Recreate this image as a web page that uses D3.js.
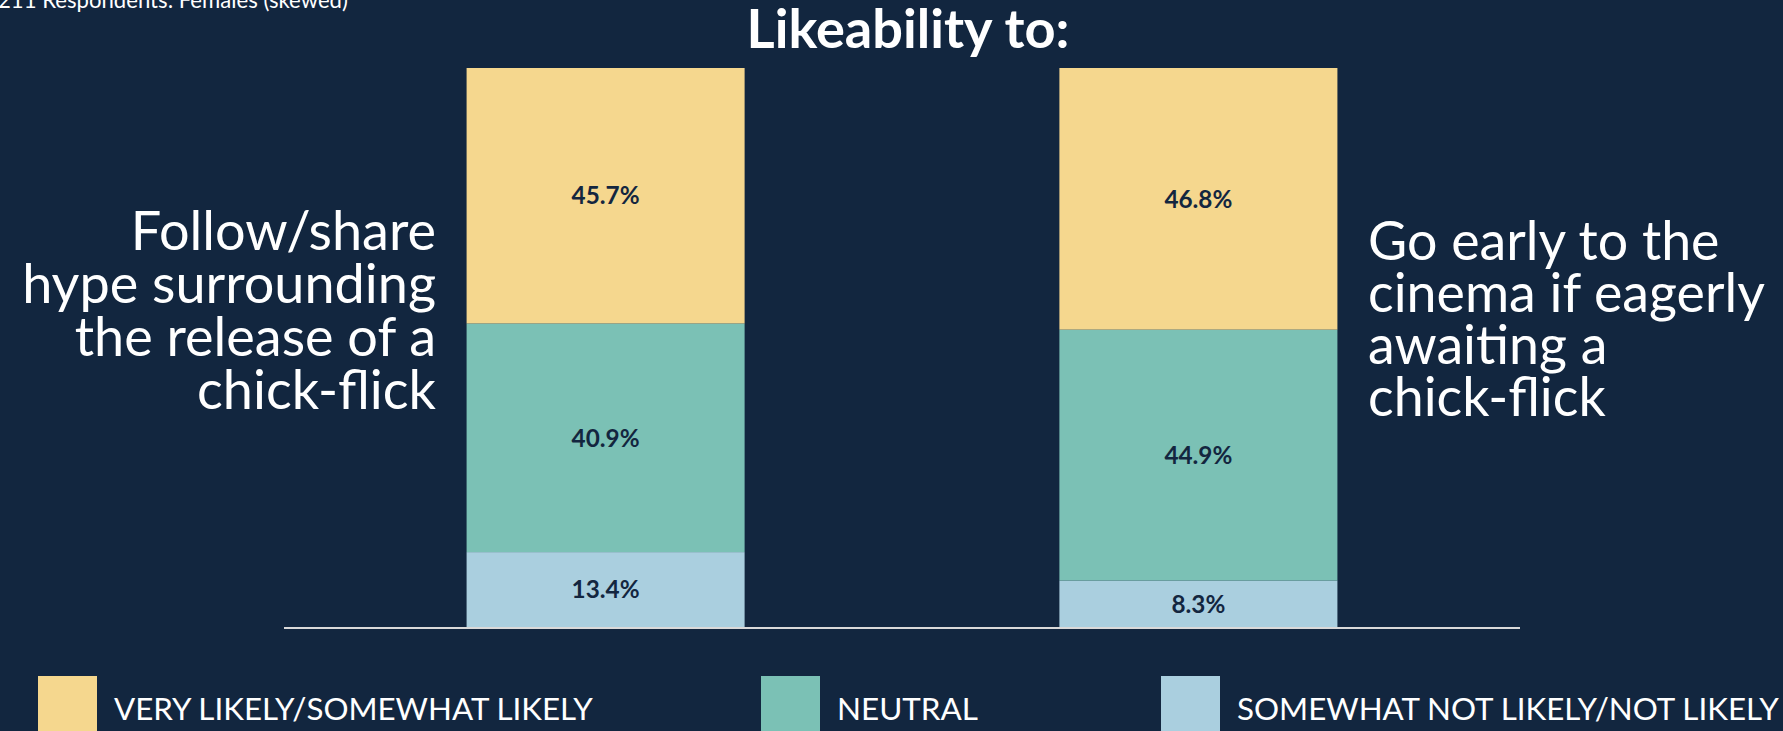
<!DOCTYPE html>
<html>
<head>
<meta charset="utf-8">
<script src="https://cdn.jsdelivr.net/npm/d3@7"></script>
<style>
  html, body { margin: 0; padding: 0; background: #12263f; overflow: hidden; }
  svg { display: block; font-family: Lato, "Open Sans", sans-serif; }
</style>
</head>
<body>
<div id="wrapper"></div>
<script>
// data
const categories = ["Follow/share hype surrounding the release of a chick-flick",
                    "Go early to the cinema if eagerly awaiting a chick-flick"]
const seriesNames = ["SOMEWHAT NOT LIKELY/NOT LIKELY", "NEUTRAL", "VERY LIKELY/SOMEWHAT LIKELY"]
const notLikely = [13.4, 8.3]
const neutral = [40.9, 44.9]
const likely = [45.7, 46.8]
const leftLabelLines = ["Follow/share", "hype surrounding", "the release of a", "chick-flick"]
const rightLabelLines = ["Go early to the", "cinema if eagerly", "awaiting a", "chick-flick"]
const legendOrder = ["VERY LIKELY/SOMEWHAT LIKELY", "NEUTRAL", "SOMEWHAT NOT LIKELY/NOT LIKELY"]
const colors = {
  "VERY LIKELY/SOMEWHAT LIKELY": "#f5d78e",
  "NEUTRAL": "#7bc1b5",
  "SOMEWHAT NOT LIKELY/NOT LIKELY": "#aacfdf"
}

const width = 1783
const height = 731

const svg = d3.select("#wrapper").append("svg")
    .attr("width", width)
    .attr("height", height)

svg.append("rect").attr("width", width).attr("height", height).attr("fill", "#12263f")

// helper: scale font so text hits target width
function fitText(sel, target) {
  const fs = parseFloat(sel.style("font-size"))
  const w = sel.node().getComputedTextLength()
  sel.style("font-size", (fs * target / w) + "px")
}

// scales
const xScale = d3.scaleBand()
    .domain(categories)
    .range([284, 1520])
    .paddingInner(0.531)
    .paddingOuter(0.308)

const yScale = d3.scaleLinear()
    .domain([0, 100])
    .range([627, 68])

const table = categories.map((c, i) => ({
  cat: c,
  "SOMEWHAT NOT LIKELY/NOT LIKELY": notLikely[i],
  "NEUTRAL": neutral[i],
  "VERY LIKELY/SOMEWHAT LIKELY": likely[i]
}))
const stacked = d3.stack().keys(seriesNames)(table)

const layers = svg.selectAll("g.layer")
  .data(stacked)
  .join("g")
    .attr("class", "layer")
    .attr("fill", d => colors[d.key])

layers.selectAll("rect")
  .data(d => d)
  .join("rect")
    .attr("x", d => xScale(d.data.cat))
    .attr("width", xScale.bandwidth())
    .attr("y", d => yScale(d[1]))
    .attr("height", d => yScale(d[0]) - yScale(d[1]))

const valueLabels = layers.selectAll("text")
  .data(d => d)
  .join("text")
    .attr("x", d => xScale(d.data.cat) + xScale.bandwidth() / 2)
    .attr("y", d => (yScale(d[0]) + yScale(d[1])) / 2)
    .attr("dy", "0.36em")
    .attr("text-anchor", "middle")
    .attr("fill", "#13263f")
    .style("font-weight", "bold")
    .style("font-size", "22px")
    .text(d => (d[1] - d[0]).toFixed(1) + "%")
{
  // size from the "45.7%" label, ~68px wide in the reference
  const ref = valueLabels.filter(d => d.data.cat === categories[0] && d[0] > 50)
  const w = ref.node().getComputedTextLength()
  valueLabels.style("font-size", (22 * 68 / w) + "px")
}

// baseline
svg.append("line")
    .attr("x1", xScale.range()[0])
    .attr("x2", xScale.range()[1])
    .attr("y1", 628)
    .attr("y2", 628)
    .attr("stroke", "#d9d9d9")
    .attr("stroke-width", 2)

// title
const title = svg.append("text")
    .attr("x", 908)
    .attr("y", 48)
    .attr("text-anchor", "middle")
    .attr("fill", "white")
    .style("font-weight", "bold")
    .style("font-size", "44px")
    .text("Likeability to:")
fitText(title, 323)

// note top-left
const note = svg.append("text")
    .attr("x", -2)
    .attr("y", 8)
    .attr("fill", "white")
    .style("font-size", "18px")
    .text("211 Respondents: Females (skewed)")
fitText(note, 350)

// category labels
const leftLabel = svg.append("text")
    .attr("fill", "white")
    .attr("text-anchor", "end")
    .style("font-size", "44px")
leftLabel.selectAll("tspan")
  .data(leftLabelLines)
  .join("tspan")
    .attr("x", 436)
    .attr("y", (d, i) => 250 + i * 53)
    .text(d => d)
{
  const t = leftLabel.selectAll("tspan").filter((d, i) => i === 1)
  const w = t.node().getComputedTextLength()
  leftLabel.style("font-size", (44 * 414 / w) + "px")
}

const rightLabel = svg.append("text")
    .attr("fill", "white")
    .style("font-size", "44px")
rightLabel.selectAll("tspan")
  .data(rightLabelLines)
  .join("tspan")
    .attr("x", 1368)
    .attr("y", (d, i) => 260 + i * 52)
    .text(d => d)
{
  const t = rightLabel.selectAll("tspan").filter((d, i) => i === 1)
  const w = t.node().getComputedTextLength()
  rightLabel.style("font-size", (44 * 397 / w) + "px")
}

// legend
const legendX = [38, 761, 1161]
const legendTextW = [479, 141, 542]
const legend = svg.selectAll("g.legend")
  .data(legendOrder)
  .join("g")
    .attr("class", "legend")
    .attr("transform", (d, i) => `translate(${legendX[i]},676)`)

legend.append("rect")
    .attr("width", 59)
    .attr("height", 70)
    .attr("fill", d => colors[d])

legend.append("text")
    .attr("x", 76)
    .attr("y", 44)
    .attr("fill", "white")
    .style("font-size", "32px")
    .text(d => d)
    .each(function(d, i) { fitText(d3.select(this), legendTextW[i]) })
</script>
</body>
</html>
